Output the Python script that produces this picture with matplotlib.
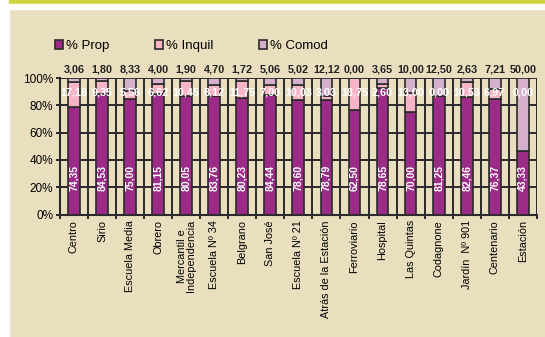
import numpy as np
import matplotlib.pyplot as plt
from matplotlib.patches import Rectangle

plt.rcParams['font.family'] = ['Liberation Sans', 'DejaVu Sans']

barrios = ["Centro", "Sirio", "Escuela Media", "Obrero", "Mercantil e\nIndependencia",
           "Escuela Nº 34", "Belgrano", "San José", "Escuela Nº 21",
           "Atrás de la Estación", "Ferroviario", "Hospital", "Las Quintas",
           "Codagnone", "Jardín  Nº 901", "Centenario", "Estación"]
prop = [74.35, 84.53, 75.00, 81.15, 80.05, 83.76, 80.23, 84.44, 78.60,
        78.79, 62.50, 78.65, 70.00, 81.25, 82.46, 76.37, 43.33]
inquil = [17.18, 9.35, 5.56, 6.62, 10.45, 8.12, 11.75, 7.00, 10.03,
          3.03, 18.75, 2.60, 13.00, 0.00, 10.53, 6.97, 0.00]
comod = [3.06, 1.80, 8.33, 4.00, 1.90, 4.70, 1.72, 5.06, 5.02,
         12.12, 0.00, 3.65, 10.00, 12.50, 2.63, 7.21, 50.00]

c_prop = "#9c2a87"
c_inq = "#f7b5c5"
c_com = "#d5b0cc"
fondo = "#e9dfbf"
linea = "#2a2a2a"

p = np.array(prop)
q = np.array(inquil)
c = np.array(comod)
tot = p + q + c
p_pct = p / tot * 100
q_pct = q / tot * 100
c_pct = c / tot * 100
x = np.arange(len(barrios))

fig = plt.figure(figsize=(5.45, 3.37), dpi=100)
fig.patch.set_facecolor(fondo)
# franjas del encabezado
fig.patches.append(Rectangle((0, 0), 9 / 545, 1, transform=fig.transFigure, color="white", zorder=0))
fig.patches.append(Rectangle((9 / 545, 1 - 4 / 337), 1, 4 / 337, transform=fig.transFigure, color="#cdd43f", zorder=0))
fig.patches.append(Rectangle((9 / 545, 1 - 9 / 337), 1, 5 / 337, transform=fig.transFigure, color="white", zorder=0))

ax = fig.add_axes([0.110, 0.3635, 0.875, 0.405])
ax.set_facecolor(fondo)

ancho = 0.42
kw = dict(width=ancho, edgecolor=linea, linewidth=1.2, zorder=3)
b1 = ax.bar(x, p_pct, color=c_prop, label="% Prop", **kw)
b2 = ax.bar(x, q_pct, bottom=p_pct, color=c_inq, label="% Inquil", **kw)
b3 = ax.bar(x, c_pct, bottom=p_pct + q_pct, color=c_com, label="% Comod", **kw)

fmt = lambda v: f"{v:.2f}".replace(".", ",")
for i in range(len(barrios)):
    ax.text(x[i], 27, fmt(prop[i]), rotation=90, ha="center", va="center",
            color="white", fontsize=7.5, fontweight="bold", zorder=5)
    ax.text(x[i], 89.5, fmt(inquil[i]), ha="center", va="center",
            color="white", fontsize=7.8, fontweight="bold", zorder=5)
    ax.text(x[i], 106, fmt(comod[i]), ha="center", va="center",
            color="#222222", fontsize=7.8, fontweight="bold", clip_on=False)

ax.set_xlim(-0.5, len(barrios) - 0.5)
ax.set_ylim(0, 100)
ax.set_yticks(np.arange(0, 101, 20))
ax.set_yticklabels([f"{v}%" for v in range(0, 101, 20)], fontsize=8.5)
ax.set_xticks(x)
ax.set_xticklabels(barrios, rotation=90, fontsize=7.8, linespacing=0.85)
ax.tick_params(axis="x", length=0, pad=4)
ax.tick_params(axis="y", length=3, width=1.4, color=linea, pad=2)
ax.set_xticks(np.arange(-0.5, len(barrios)), minor=True)
ax.tick_params(axis="x", which="minor", length=3, width=1.4, color=linea)

ax.grid(axis="y", color=linea, linewidth=1.4, zorder=1)
ax.grid(axis="x", which="minor", color=linea, linewidth=1.4, zorder=1)
ax.set_axisbelow(True)
for s in ["top", "right"]:
    ax.spines[s].set_visible(False)
for s in ["left", "bottom"]:
    ax.spines[s].set_color(linea)
    ax.spines[s].set_linewidth(1.5)

ax.legend(handles=[b1, b2, b3], loc="lower left", bbox_to_anchor=(-0.01, 1.19),
          ncol=3, frameon=False, fontsize=9.5, handlelength=0.6, handleheight=0.6,
          handletextpad=0.2, columnspacing=3.5, borderpad=0, borderaxespad=0)

plt.savefig("out.png", dpi=100, facecolor=fig.get_facecolor())
